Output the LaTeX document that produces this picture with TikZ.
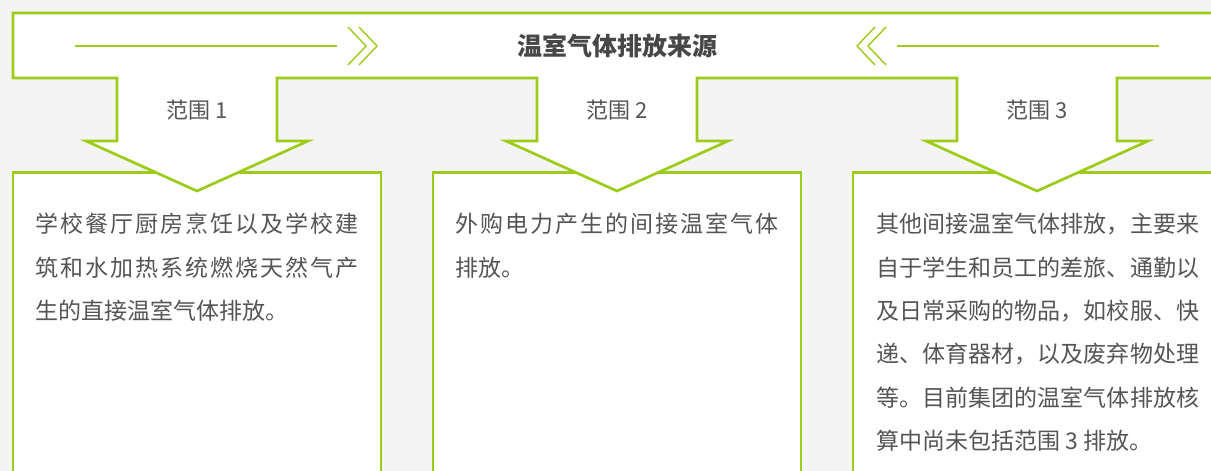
\documentclass[tikz,border=0pt]{standalone}
\usepackage{fontspec}
\setmainfont{Noto Sans CJK SC}
\definecolor{scopegreen}{HTML}{9CCB19}
\definecolor{pagegray}{HTML}{F4F4F4}
\definecolor{textgray}{HTML}{555555}
\definecolor{titlegray}{HTML}{474747}
% spread one line of text over the full text width
\newlength\jw
\setlength\jw{323pt}
\def\jlineaux#1#2\jend{#1\ifx\jend#2\jend\else\hfil\jlineaux#2\jend\fi}
\newcommand\jline[1]{\hbox to\jw{\jlineaux#1\jend}}
\tikzset{
  scopebox/.style={draw=scopegreen, line width=2.7pt, fill=white, anchor=north, minimum width=368pt, minimum height=330pt, inner sep=0pt},
  banner/.style={draw=scopegreen, line width=2.7pt, fill=white, line join=miter},
  deco/.style={draw=scopegreen, line width=1.4pt},
  titletext/.style={text=titlegray, font=\fontsize{25}{30}\selectfont\bfseries},
  scopelabel/.style={text=textgray, font=\fontsize{22}{26}\selectfont},
  bodytext/.style={anchor=base west, inner sep=0pt, text=textgray, font=\fontsize{23}{28}\selectfont}
}

\begin{document}
\begin{tikzpicture}[x=1pt, y=-1pt]
  \clip (0,0) rectangle (1211,471);
  \fill[pagegray] (0,0) rectangle (1211,471);
  % the three text boxes
  \foreach \c [count=\i] in {197,617,1037}
    \node[scopebox] (box\i) at (\c,171) {};
  % top band with its three arrows
  \draw[banner] (13,13) -- (1230,13) -- (1230,78)
    foreach \c in {1037,617,197} { -- (\c+80,78) -- (\c+80,141) -- (\c+111,141) -- (\c,191) -- (\c-111,141) -- (\c-80,141) -- (\c-80,78) }
    -- (13,78) -- cycle;
  \node[titletext] (title) at (617,46) {温室气体排放来源};
  \draw[deco] (75,46) -- (337,46);
  \draw[deco] (348,27) -- (366,46) -- (348,65);
  \draw[deco] (359,27) -- (377,46) -- (359,65);
  \draw[deco] (897,46) -- (1159,46);
  \draw[deco] (886,27) -- (868,46) -- (886,65);
  \draw[deco] (875,27) -- (857,46) -- (875,65);
  \foreach \c [count=\i] in {197,617,1037}
    \node[scopelabel] (scope\i) at (\c,110) {范围 \i};
  % box texts
  \foreach \t [count=\i] in {\jline{学校餐厅厨房烹饪以及学校建}, \jline{筑和水加热系统燃烧天然气产}, 生的直接温室气体排放。}
    \node[bodytext] (textA\i) at (35,{189.3+43.4*\i}) {\t};
  \foreach \t [count=\i] in {\jline{外购电力产生的间接温室气体}, 排放。}
    \node[bodytext] (textB\i) at (455,{189.3+43.4*\i}) {\t};
  \foreach \t [count=\i] in {\jline{其他间接温室气体排放，主要来}, \jline{自于学生和员工的差旅、通勤以}, \jline{及日常采购的物品，如校服、快}, \jline{递、体育器材，以及废弃物处理}, \jline{等。目前集团的温室气体排放核}, 算中尚未包括范围 3 排放。}
    \node[bodytext] (textC\i) at (876,{189.3+43.4*\i}) {\t};
\end{tikzpicture}
\end{document}
